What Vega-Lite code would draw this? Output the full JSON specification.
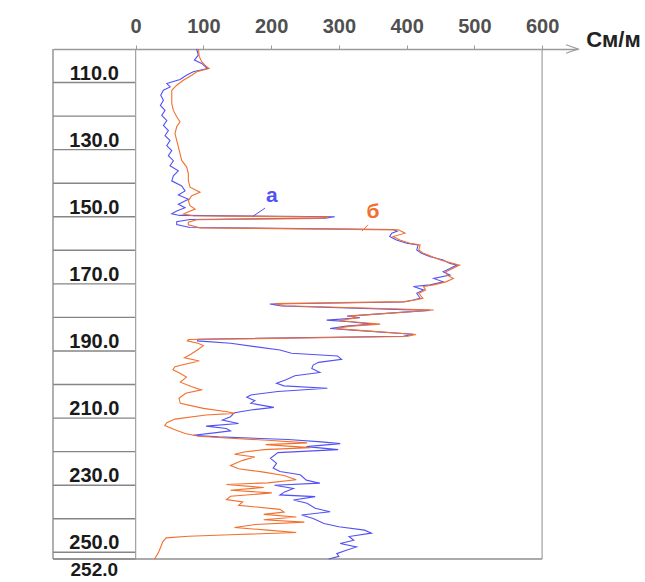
{
  "$schema": "https://vega.github.io/schema/vega-lite/v6.json",
  "width": 525,
  "height": 510,
  "autosize": {"type": "none"},
  "padding": {"left": 53, "top": 49, "right": 67, "bottom": 23},
  "background": "white",
  "config": {"view": {"stroke": null}},
  "datasets": {
    "logs": [
      {"s":"а","d":100.0,"v":90},{"s":"а","d":101.8,"v":92.5},{"s":"а","d":103.3,"v":86.7},{"s":"а","d":104.3,"v":97.5},{"s":"а","d":105.8,"v":106},{"s":"а","d":106.8,"v":85},{"s":"а","d":107.8,"v":75},{"s":"а","d":109.1,"v":65.5},{"s":"а","d":110.3,"v":46},{"s":"а","d":111.3,"v":51},{"s":"а","d":112.3,"v":41},{"s":"а","d":113.8,"v":37},{"s":"а","d":115.3,"v":41},{"s":"а","d":116.8,"v":36.5},{"s":"а","d":118.3,"v":43.4},{"s":"а","d":119.8,"v":38.5},{"s":"а","d":121.3,"v":46},{"s":"а","d":122.8,"v":41},{"s":"а","d":124.3,"v":48.3},{"s":"а","d":125.8,"v":43.4},{"s":"а","d":127.3,"v":50.8},{"s":"а","d":128.8,"v":45.9},{"s":"а","d":130.3,"v":53.3},{"s":"а","d":131.8,"v":48.3},{"s":"а","d":133.3,"v":55.7},{"s":"а","d":134.8,"v":50.8},{"s":"а","d":136.3,"v":63},{"s":"а","d":137.8,"v":55.7},{"s":"а","d":139.3,"v":53.3},{"s":"а","d":140.8,"v":68},{"s":"а","d":142.3,"v":73},{"s":"а","d":143.5,"v":63},{"s":"а","d":144.8,"v":78},{"s":"а","d":146.3,"v":63},{"s":"а","d":147.3,"v":73},{"s":"а","d":148.3,"v":60.6},{"s":"а","d":149.1,"v":53.3},{"s":"а","d":149.6,"v":65},{"s":"а","d":150.0,"v":294},{"s":"а","d":150.4,"v":280},{"s":"а","d":150.8,"v":80},{"s":"а","d":151.5,"v":60.6},{"s":"а","d":152.3,"v":60.6},{"s":"а","d":153.2,"v":80},{"s":"а","d":153.8,"v":380},{"s":"а","d":154.3,"v":386},{"s":"а","d":154.9,"v":378},{"s":"а","d":155.9,"v":375},{"s":"а","d":156.9,"v":385},{"s":"а","d":157.9,"v":400},{"s":"а","d":158.4,"v":417},{"s":"а","d":159.9,"v":415},{"s":"а","d":160.9,"v":422},{"s":"а","d":161.9,"v":435},{"s":"а","d":162.9,"v":454},{"s":"а","d":163.9,"v":464},{"s":"а","d":164.4,"v":474},{"s":"а","d":165.4,"v":464},{"s":"а","d":166.4,"v":454},{"s":"а","d":167.4,"v":464},{"s":"а","d":168.4,"v":440},{"s":"а","d":169.4,"v":454},{"s":"а","d":170.3,"v":435},{"s":"а","d":170.8,"v":410},{"s":"а","d":171.8,"v":425},{"s":"а","d":172.8,"v":415},{"s":"а","d":174.3,"v":420},{"s":"а","d":174.8,"v":410},{"s":"а","d":175.4,"v":395},{"s":"а","d":176.0,"v":198},{"s":"а","d":176.6,"v":215},{"s":"а","d":177.9,"v":434},{"s":"а","d":179.6,"v":312},{"s":"а","d":180.1,"v":331},{"s":"а","d":180.8,"v":282},{"s":"а","d":181.3,"v":316},{"s":"а","d":182.0,"v":350},{"s":"а","d":182.6,"v":311},{"s":"а","d":183.3,"v":287},{"s":"а","d":183.8,"v":321},{"s":"а","d":185.0,"v":410},{"s":"а","d":185.6,"v":395},{"s":"а","d":186.5,"v":92},{"s":"а","d":187.0,"v":91.4},{"s":"а","d":187.7,"v":140},{"s":"а","d":188.7,"v":176},{"s":"а","d":189.7,"v":213},{"s":"а","d":190.7,"v":230},{"s":"а","d":191.5,"v":298},{"s":"а","d":192.5,"v":304},{"s":"а","d":193.4,"v":270},{"s":"а","d":194.2,"v":262},{"s":"а","d":195.2,"v":260},{"s":"а","d":196.4,"v":272},{"s":"а","d":197.4,"v":235},{"s":"а","d":198.6,"v":222},{"s":"а","d":199.6,"v":208},{"s":"а","d":200.4,"v":219},{"s":"а","d":201.1,"v":283},{"s":"а","d":202.1,"v":210},{"s":"а","d":203.1,"v":170},{"s":"а","d":203.8,"v":164},{"s":"а","d":204.8,"v":176},{"s":"а","d":205.6,"v":170},{"s":"а","d":206.8,"v":204},{"s":"а","d":207.6,"v":170},{"s":"а","d":208.4,"v":146},{"s":"а","d":209.6,"v":140},{"s":"а","d":210.6,"v":128},{"s":"а","d":211.6,"v":152},{"s":"а","d":212.4,"v":104},{"s":"а","d":213.1,"v":134},{"s":"а","d":213.8,"v":140},{"s":"а","d":214.4,"v":116},{"s":"а","d":215.1,"v":85},{"s":"а","d":215.6,"v":122},{"s":"а","d":216.4,"v":225},{"s":"а","d":217.1,"v":274},{"s":"а","d":217.6,"v":302},{"s":"а","d":218.5,"v":252},{"s":"а","d":219.4,"v":299},{"s":"а","d":220.3,"v":210},{"s":"а","d":222.0,"v":199},{"s":"а","d":223.5,"v":208},{"s":"а","d":224.9,"v":203},{"s":"а","d":225.9,"v":213},{"s":"а","d":226.9,"v":243},{"s":"а","d":228.5,"v":252},{"s":"а","d":229.4,"v":272},{"s":"а","d":230.0,"v":205},{"s":"а","d":231.0,"v":233},{"s":"а","d":232.0,"v":220},{"s":"а","d":232.9,"v":213},{"s":"а","d":233.4,"v":265},{"s":"а","d":234.4,"v":233},{"s":"а","d":235.4,"v":253},{"s":"а","d":236.9,"v":265},{"s":"а","d":237.9,"v":287},{"s":"а","d":238.9,"v":245},{"s":"а","d":239.9,"v":262},{"s":"а","d":241.4,"v":278},{"s":"а","d":242.4,"v":300},{"s":"а","d":243.4,"v":338},{"s":"а","d":244.3,"v":348},{"s":"а","d":245.3,"v":315},{"s":"а","d":246.4,"v":322},{"s":"а","d":247.4,"v":302},{"s":"а","d":248.4,"v":326},{"s":"а","d":249.4,"v":311},{"s":"а","d":250.4,"v":297},{"s":"а","d":251.2,"v":300},{"s":"а","d":252.0,"v":285},
      {"s":"б","d":100.0,"v":92.6},{"s":"б","d":102.3,"v":94},{"s":"б","d":103.8,"v":97.5},{"s":"б","d":104.8,"v":102.4},{"s":"б","d":105.8,"v":108.4},{"s":"б","d":106.8,"v":90.2},{"s":"б","d":107.8,"v":82.8},{"s":"б","d":109.3,"v":70.4},{"s":"б","d":110.8,"v":60.6},{"s":"б","d":112.3,"v":53.3},{"s":"б","d":114.3,"v":53.3},{"s":"б","d":116.3,"v":53.3},{"s":"б","d":118.3,"v":55.7},{"s":"б","d":120.2,"v":60.6},{"s":"б","d":121.7,"v":65.5},{"s":"б","d":123.2,"v":60.6},{"s":"б","d":125.2,"v":58.1},{"s":"б","d":127.2,"v":60.6},{"s":"б","d":129.2,"v":63.1},{"s":"б","d":131.2,"v":65.5},{"s":"б","d":133.2,"v":68},{"s":"б","d":135.2,"v":75.4},{"s":"б","d":137.2,"v":77.8},{"s":"б","d":139.2,"v":77.8},{"s":"б","d":141.2,"v":80.3},{"s":"б","d":142.7,"v":95},{"s":"б","d":143.7,"v":82.8},{"s":"б","d":145.2,"v":77.8},{"s":"б","d":146.7,"v":80.3},{"s":"б","d":147.7,"v":87.7},{"s":"б","d":148.7,"v":75.4},{"s":"б","d":149.2,"v":70.4},{"s":"б","d":149.7,"v":85},{"s":"б","d":150.1,"v":285},{"s":"б","d":150.5,"v":270},{"s":"б","d":150.9,"v":90},{"s":"б","d":151.6,"v":77.8},{"s":"б","d":152.4,"v":77.8},{"s":"б","d":153.3,"v":95},{"s":"б","d":153.9,"v":388},{"s":"б","d":154.9,"v":397.7},{"s":"б","d":155.9,"v":380},{"s":"б","d":156.9,"v":390},{"s":"б","d":157.9,"v":405},{"s":"б","d":158.4,"v":420},{"s":"б","d":159.9,"v":418},{"s":"б","d":160.9,"v":425},{"s":"б","d":161.9,"v":438},{"s":"б","d":162.9,"v":450},{"s":"б","d":163.9,"v":468},{"s":"б","d":164.4,"v":478},{"s":"б","d":165.4,"v":468},{"s":"б","d":166.4,"v":458},{"s":"б","d":167.4,"v":460},{"s":"б","d":168.4,"v":469},{"s":"б","d":169.4,"v":458},{"s":"б","d":170.3,"v":440},{"s":"б","d":170.8,"v":425},{"s":"б","d":171.8,"v":428},{"s":"б","d":172.8,"v":418},{"s":"б","d":174.3,"v":424},{"s":"б","d":174.8,"v":412},{"s":"б","d":175.3,"v":398},{"s":"б","d":175.9,"v":205},{"s":"б","d":176.5,"v":220},{"s":"б","d":177.8,"v":440},{"s":"б","d":179.6,"v":315},{"s":"б","d":180.1,"v":328},{"s":"б","d":180.9,"v":300},{"s":"б","d":181.3,"v":320},{"s":"б","d":182.0,"v":361},{"s":"б","d":182.6,"v":318},{"s":"б","d":183.3,"v":295},{"s":"б","d":183.8,"v":325},{"s":"б","d":185.1,"v":414},{"s":"б","d":185.7,"v":400},{"s":"б","d":186.6,"v":78},{"s":"б","d":187.0,"v":76.2},{"s":"б","d":187.7,"v":92},{"s":"б","d":188.4,"v":100},{"s":"б","d":189.7,"v":91},{"s":"б","d":190.9,"v":82},{"s":"б","d":192.0,"v":72},{"s":"б","d":193.0,"v":94},{"s":"б","d":193.8,"v":76},{"s":"б","d":194.7,"v":58},{"s":"б","d":195.6,"v":55},{"s":"б","d":196.7,"v":66},{"s":"б","d":197.8,"v":75},{"s":"б","d":199.3,"v":66},{"s":"б","d":200.6,"v":82},{"s":"б","d":201.6,"v":97},{"s":"б","d":202.6,"v":74},{"s":"б","d":204.1,"v":64},{"s":"б","d":205.6,"v":66},{"s":"б","d":207.1,"v":100},{"s":"б","d":208.1,"v":135},{"s":"б","d":208.6,"v":146},{"s":"б","d":209.1,"v":104},{"s":"б","d":210.3,"v":58},{"s":"б","d":211.4,"v":46},{"s":"б","d":212.2,"v":43},{"s":"б","d":213.4,"v":57},{"s":"б","d":214.6,"v":73},{"s":"б","d":215.4,"v":93},{"s":"б","d":216.0,"v":140},{"s":"б","d":216.6,"v":195},{"s":"б","d":217.4,"v":253},{"s":"б","d":217.9,"v":192},{"s":"б","d":218.8,"v":258},{"s":"б","d":219.4,"v":190},{"s":"б","d":220.1,"v":160},{"s":"б","d":220.8,"v":146},{"s":"б","d":221.6,"v":176},{"s":"б","d":222.6,"v":158},{"s":"б","d":224.1,"v":140},{"s":"б","d":225.1,"v":152},{"s":"б","d":226.1,"v":189},{"s":"б","d":227.1,"v":219},{"s":"б","d":228.4,"v":237},{"s":"б","d":229.3,"v":195},{"s":"б","d":229.8,"v":134},{"s":"б","d":230.7,"v":189},{"s":"б","d":231.5,"v":140},{"s":"б","d":232.3,"v":201},{"s":"б","d":233.3,"v":140},{"s":"б","d":234.3,"v":134},{"s":"б","d":235.0,"v":158},{"s":"б","d":236.0,"v":152},{"s":"б","d":237.2,"v":213},{"s":"б","d":238.0,"v":219},{"s":"б","d":238.7,"v":189},{"s":"б","d":239.5,"v":237},{"s":"б","d":240.3,"v":189},{"s":"б","d":241.0,"v":249},{"s":"б","d":241.7,"v":177},{"s":"б","d":242.6,"v":146},{"s":"б","d":243.4,"v":195},{"s":"б","d":244.1,"v":237},{"s":"б","d":244.7,"v":150},{"s":"б","d":245.2,"v":78},{"s":"б","d":245.7,"v":45},{"s":"б","d":246.9,"v":40},{"s":"б","d":248.4,"v":37},{"s":"б","d":249.9,"v":34},{"s":"б","d":252.0,"v":28}
    ],
    "grid": [{"d":110},{"d":120},{"d":130},{"d":140},{"d":150},{"d":160},{"d":170},{"d":180},{"d":190},{"d":200},{"d":210},{"d":220},{"d":230},{"d":240},{"d":250},{"d":252}],
    "depthLabels": [{"d":110},{"d":130},{"d":150},{"d":170},{"d":190},{"d":210},{"d":230},{"d":250}],
    "marks": [{"s":"а","v":201,"d":145.6},{"s":"б","v":350.5,"d":150.4}],
    "leaders": [{"s":"а","v":191,"d":147.4,"v2":173,"d2":149.9},{"s":"б","v":343,"d":152.4,"v2":334,"d2":154.3}],
    "borders": [{"v":0},{"v":600}]
  },
  "layer": [
    {
      "data": {"name": "grid"},
      "mark": {"type": "rule", "color": "#858585", "strokeWidth": 1.4},
      "encoding": {
        "y": {"field": "d", "type": "quantitative", "scale": {"domain": [100, 252], "reverse": true, "nice": false, "zero": false}, "axis": null},
        "x": {"datum": -122, "type": "quantitative", "scale": {"domain": [-122, 653], "nice": false, "zero": false},
              "axis": {"orient": "top", "values": [0, 100, 200, 300, 400, 500, 600], "grid": false, "title": null,
                       "domainColor": "#9a9a9a", "domainWidth": 1.3, "tickColor": "#9a9a9a", "tickSize": 4, "tickWidth": 1,
                       "labelFont": "Liberation Sans Narrow, Liberation Sans", "labelFontSize": 20, "labelFontWeight": "bold", "labelColor": "#505050",
                       "labelPadding": 13, "labelBaseline": "alphabetic", "labelFlush": false, "labelOverlap": false}},
        "x2": {"datum": 0}
      }
    },
    {
      "data": {"values": [{}]},
      "mark": {"type": "rule", "color": "#8f8f8f", "strokeWidth": 1.4},
      "encoding": {
        "x": {"datum": -122, "type": "quantitative"},
        "y": {"datum": 100, "type": "quantitative"},
        "y2": {"datum": 252}
      }
    },
    {
      "data": {"name": "borders"},
      "mark": {"type": "rule", "color": "#a0a0a0", "strokeWidth": 1.2},
      "encoding": {
        "x": {"field": "v", "type": "quantitative"}
      }
    },
    {
      "data": {"values": [{}]},
      "mark": {"type": "rule", "color": "#8f8f8f", "strokeWidth": 1.5},
      "encoding": {
        "y": {"datum": 252, "type": "quantitative"},
        "x": {"datum": -122, "type": "quantitative"},
        "x2": {"datum": 600}
      }
    },
    {
      "data": {"name": "logs"},
      "mark": {"type": "line", "strokeWidth": 1.1, "interpolate": "linear"},
      "encoding": {
        "x": {"field": "v", "type": "quantitative"},
        "y": {"field": "d", "type": "quantitative"},
        "order": {"field": "d", "type": "quantitative"},
        "color": {"field": "s", "type": "nominal", "scale": {"domain": ["а", "б"], "range": ["#5252f4", "#f2702e"]}, "legend": null}
      }
    },
    {
      "data": {"name": "leaders"},
      "mark": {"type": "rule", "strokeWidth": 1},
      "encoding": {
        "x": {"field": "v", "type": "quantitative"},
        "y": {"field": "d", "type": "quantitative"},
        "x2": {"field": "v2"},
        "y2": {"field": "d2"},
        "color": {"field": "s", "type": "nominal", "scale": {"domain": ["а", "б"], "range": ["#5252f4", "#f2702e"]}, "legend": null}
      }
    },
    {
      "data": {"name": "marks"},
      "mark": {"type": "text", "font": "Liberation Sans", "fontSize": 21, "fontWeight": "bold", "align": "center", "baseline": "alphabetic"},
      "encoding": {
        "x": {"field": "v", "type": "quantitative"},
        "y": {"field": "d", "type": "quantitative"},
        "text": {"field": "s"},
        "color": {"field": "s", "type": "nominal", "scale": {"domain": ["а", "б"], "range": ["#2a2ad6", "#e8252a"]}, "legend": null}
      }
    },
    {
      "data": {"name": "depthLabels"},
      "mark": {"type": "text", "font": "Liberation Sans Narrow, Liberation Sans", "fontSize": 20, "fontWeight": "bold", "color": "#1a1a1a", "align": "center", "baseline": "alphabetic", "dy": -3},
      "encoding": {
        "x": {"datum": -61, "type": "quantitative"},
        "y": {"field": "d", "type": "quantitative"},
        "text": {"field": "d", "type": "quantitative", "format": ".1f"}
      }
    },
    {
      "data": {"values": [{"d": 252}]},
      "mark": {"type": "text", "font": "Liberation Sans Narrow, Liberation Sans", "fontSize": 19, "fontWeight": "bold", "color": "#1a1a1a", "align": "center", "baseline": "alphabetic", "dy": 17},
      "encoding": {
        "x": {"datum": -61, "type": "quantitative"},
        "y": {"field": "d", "type": "quantitative"},
        "text": {"field": "d", "type": "quantitative", "format": ".1f"}
      }
    },
    {
      "data": {"values": [{}]},
      "mark": {"type": "point", "shape": "M-1,-0.35L0,0L-1,0.35", "size": 576, "filled": false, "stroke": "#9a9a9a", "strokeWidth": 1.2, "opacity": 1},
      "encoding": {
        "x": {"datum": 653, "type": "quantitative"},
        "y": {"datum": 100, "type": "quantitative"}
      }
    },
    {
      "data": {"values": [{"t": "См/м"}]},
      "mark": {"type": "text", "font": "Liberation Sans", "fontSize": 22, "fontWeight": "bold", "color": "#222222", "align": "left", "baseline": "alphabetic"},
      "encoding": {
        "x": {"datum": 665, "type": "quantitative"},
        "y": {"datum": 99.4, "type": "quantitative"},
        "text": {"field": "t"}
      }
    }
  ]
}
